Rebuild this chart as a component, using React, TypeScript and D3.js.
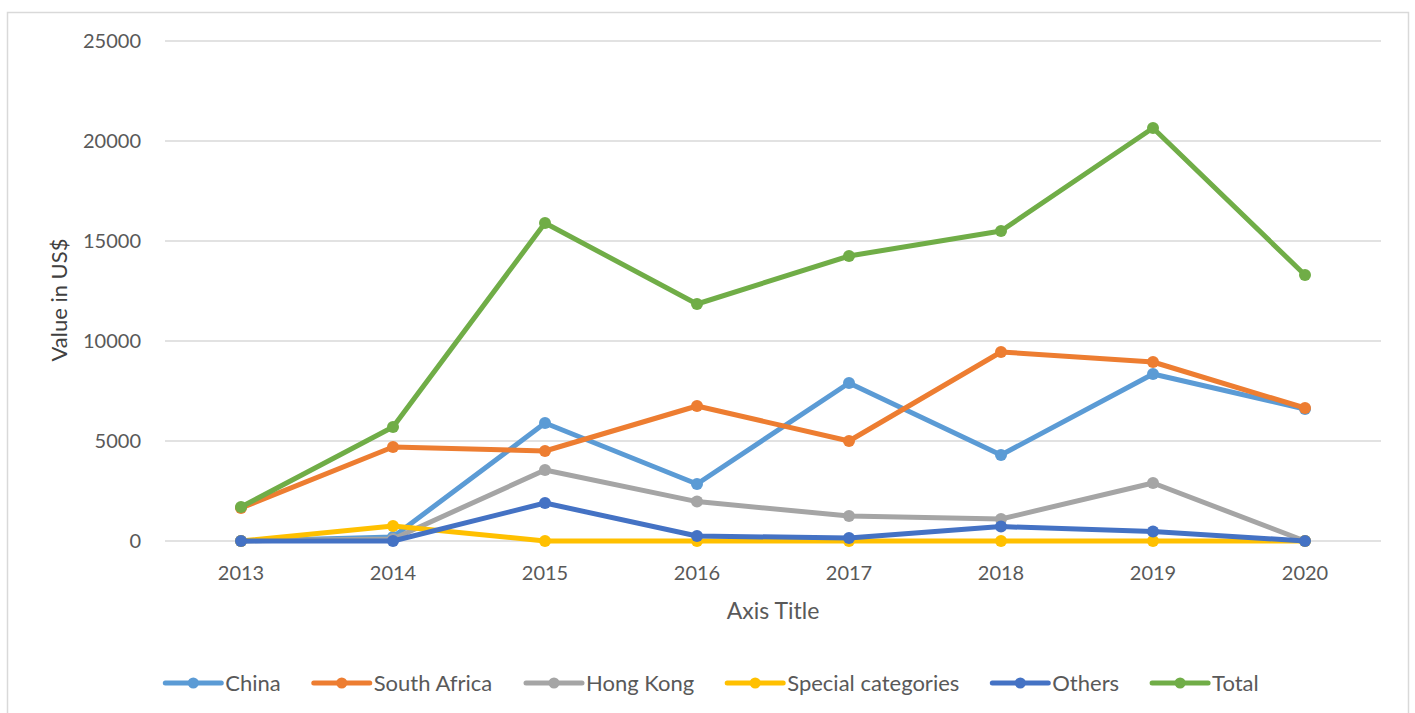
import React from "react";
import * as d3 from "d3";

const years = ["2013", "2014", "2015", "2016", "2017", "2018", "2019", "2020"];
const china = [0, 200, 5900, 2850, 7900, 4300, 8350, 6600];
const southAfrica = [1650, 4700, 4500, 6750, 5000, 9450, 8950, 6650];
const hongKong = [0, 100, 3550, 1970, 1250, 1100, 2900, 0];
const specialCategories = [0, 750, 0, 0, 0, 0, 0, 0];
const others = [0, 0, 1900, 250, 150, 720, 470, 0];
const total = [1700, 5700, 15900, 11850, 14250, 15500, 20650, 13300];
const yTicks = [0, 5000, 10000, 15000, 20000, 25000];

const seriesNames = ["China", "South Africa", "Hong Kong", "Special categories", "Others", "Total"];
const seriesValues = [china, southAfrica, hongKong, specialCategories, others, total];
const seriesColors = ["#5B9BD5", "#ED7D31", "#A5A5A5", "#FFC000", "#4472C4", "#70AD47"];

const W = 1415;
const H = 713;
const FONT = "Lato, 'Open Sans', sans-serif";
const TEXT = "#595959";

function measure(text: string, size: number) {
  const c = document.createElement("canvas").getContext("2d");
  if (!c) return text.length * size * 0.5;
  c.font = `${size}px Lato`;
  return c.measureText(text).width;
}

export default function App() {
  const plot = { left: 165, right: 1381, top: 41, bottom: 541 };
  const x = d3.scaleBand<string>().domain(years).range([plot.left, plot.right]);
  const y = d3.scaleLinear().domain([0, 25000]).range([plot.bottom, plot.top]);
  const cx = (yr: string) => (x(yr) ?? 0) + x.bandwidth() / 2;

  const line = d3
    .line<number>()
    .x((_, i) => cx(years[i]))
    .y((d) => y(d));

  // legend layout
  const legendSize = 22;
  const lineLen = 56;
  const textGap = 4;
  const itemGap = 33;
  const widths = seriesNames.map((n) => lineLen + textGap + measure(n, legendSize));
  const totalW = widths.reduce((a, b) => a + b, 0) + itemGap * (seriesNames.length - 1);
  let lx = 712 - totalW / 2;
  const legendItems = seriesNames.map((n, i) => {
    const item = { name: n, x: lx, color: seriesColors[i] };
    lx += widths[i] + itemGap;
    return item;
  });
  const legendY = 683;

  return (
    <svg
      width={W}
      height={H}
      style={{ position: "absolute", left: 0, top: 0, background: "#fff" }}
      fontFamily={FONT}
    >
      <rect x={7.5} y={12.5} width={1401} height={720} fill="#fff" stroke="#d9d9d9" strokeWidth={1.5} />
      {yTicks.map((t) => (
        <g key={t}>
          <line x1={plot.left} x2={plot.right} y1={y(t)} y2={y(t)} stroke="#d9d9d9" strokeWidth={1.5} />
          <text x={141} y={y(t)} dy="0.35em" textAnchor="end" fontSize={20} fill={TEXT}>
            {t}
          </text>
        </g>
      ))}
      {years.map((yr) => (
        <text key={yr} x={cx(yr)} y={573} dy="0.35em" textAnchor="middle" fontSize={20} fill={TEXT}>
          {yr}
        </text>
      ))}
      <text x={(plot.left + plot.right) / 2} y={611} dy="0.35em" textAnchor="middle" fontSize={23} fill={TEXT}>
        Axis Title
      </text>
      <text
        transform={`translate(59, 300) rotate(-90)`}
        dy="0.35em"
        textAnchor="middle"
        fontSize={22}
        fill="#404040"
      >
        Value in US$
      </text>
      {seriesValues.map((vals, si) => (
        <g key={seriesNames[si]}>
          <path
            d={line(vals) ?? ""}
            fill="none"
            stroke={seriesColors[si]}
            strokeWidth={5}
            strokeLinejoin="round"
            strokeLinecap="round"
          />
          {vals.map((v, i) => (
            <circle key={i} cx={cx(years[i])} cy={y(v)} r={6} fill={seriesColors[si]} />
          ))}
        </g>
      ))}
      {legendItems.map((it) => (
        <g key={it.name}>
          <line
            x1={it.x}
            x2={it.x + lineLen}
            y1={legendY}
            y2={legendY}
            stroke={it.color}
            strokeWidth={5}
            strokeLinecap="round"
          />
          <circle cx={it.x + lineLen / 2} cy={legendY} r={5.5} fill={it.color} />
          <text x={it.x + lineLen + textGap} y={legendY} dy="0.35em" fontSize={legendSize} fill={TEXT}>
            {it.name}
          </text>
        </g>
      ))}
    </svg>
  );
}
